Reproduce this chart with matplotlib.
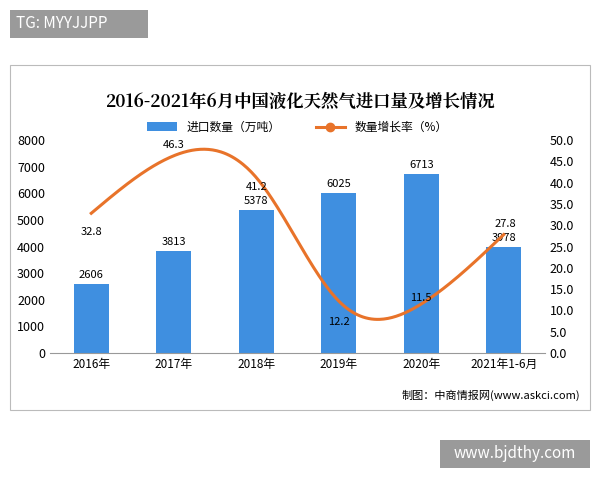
import matplotlib
matplotlib.use("Agg")
import matplotlib.pyplot as plt
import numpy as np
from matplotlib.patches import Rectangle

plt.rcParams['font.family'] = ['Noto Sans CJK SC', 'DejaVu Sans']

categories = ["2016年", "2017年", "2018年", "2019年", "2020年", "2021年1-6月"]
imports = [2606, 3813, 5378, 6025, 6713, 3978]
growth = [32.8, 46.3, 41.2, 12.2, 11.5, 27.8]

def natural_spline(x, y, n=300):
    x = np.asarray(x, float); y = np.asarray(y, float)
    k = len(x); h = np.diff(x)
    A = np.zeros((k, k)); b = np.zeros(k)
    A[0, 0] = A[-1, -1] = 1
    for i in range(1, k - 1):
        A[i, i-1] = h[i-1]; A[i, i] = 2*(h[i-1]+h[i]); A[i, i+1] = h[i]
        b[i] = 3*((y[i+1]-y[i])/h[i] - (y[i]-y[i-1])/h[i-1])
    c = np.linalg.solve(A, b)
    xs = np.linspace(x[0], x[-1], n); ys = np.empty_like(xs)
    for j, xv in enumerate(xs):
        i = min(np.searchsorted(x, xv) - 1, k - 2); i = max(i, 0)
        bb = (y[i+1]-y[i])/h[i] - h[i]*(2*c[i]+c[i+1])/3
        d = (c[i+1]-c[i])/(3*h[i]); t = xv - x[i]
        ys[j] = y[i] + bb*t + c[i]*t**2 + d*t**3
    return xs, ys

fig = plt.figure(figsize=(6, 4.8), dpi=100)
fig.patches.append(Rectangle((10/600, 1-410/480), 580/600, 345/480, transform=fig.transFigure,
                             fill=False, edgecolor='#bbbbbb', lw=0.8))
fig.patches.append(Rectangle((10/600, 1-38/480), 138/600, 28/480, transform=fig.transFigure,
                             facecolor='#9a9a9a', edgecolor='none'))
fig.text(16/600, 1-24/480, "TG: MYYJJPP", color='white', fontsize=11, va='center')
fig.patches.append(Rectangle((440/600, 1-468/480), 150/600, 28/480, transform=fig.transFigure,
                             facecolor='#9a9a9a', edgecolor='none'))
fig.text(515/600, 1-454/480, "www.bjdthy.com", color='white', fontsize=11, va='center', ha='center')

ax = fig.add_axes([50/600, 1-353/480, 495/600, 213/480])
x = np.arange(len(categories))
ax.bar(x, imports, width=0.42, color='#3f8fe0', label='进口数量（万吨）', zorder=2)
for xi, v in zip(x, imports):
    ax.text(xi, v + 150, str(v), ha='center', va='bottom', fontsize=8)
ax.set_xlim(-0.5, 5.5); ax.set_ylim(0, 8000)
ax.set_yticks(range(0, 8001, 1000))
ax.set_xticks(x); ax.set_xticklabels(categories, fontsize=8.5)
ax.tick_params(axis='y', labelsize=9, length=0)
ax.tick_params(axis='x', length=0)
for s in ['top', 'right', 'left']:
    ax.spines[s].set_visible(False)
ax.spines['bottom'].set_color('#999999')

ax2 = ax.twinx()
xs, ys = natural_spline(x, growth)
ax2.plot(xs, ys, color='#e8732a', lw=2.2, zorder=3)
ax2.plot([], [], color='#e8732a', lw=2.2, marker='o', label='数量增长率（%）')
ax2.set_ylim(0, 50); ax2.set_yticks(np.arange(0, 50.1, 5))
ax2.set_yticklabels([f"{v:.1f}" for v in np.arange(0, 50.1, 5)], fontsize=9)
ax2.tick_params(axis='y', length=0)
for s in ['top', 'right', 'left', 'bottom']:
    ax2.spines[s].set_visible(False)
offs = [(0, -4.5), (0, 2.5), (0, -2.2), (0, -5.0), (0, 1.5), (0.02, 2.5)]
for xi, v, (dx, dy) in zip(x, growth, offs):
    ax2.text(xi + dx, v + dy, f"{v}", ha='center', va='center', fontsize=8)

h1, l1 = ax.get_legend_handles_labels(); h2, l2 = ax2.get_legend_handles_labels()
ax.legend(h1 + h2, l1 + l2, loc='lower center', bbox_to_anchor=(0.5, 0.98), ncol=2,
          frameon=False, fontsize=8.5, handlelength=2.5, columnspacing=3)

fig.text(0.5, 1-102/480, "2016-2021年6月中国液化天然气进口量及增长情况", ha='center', va='center',
         fontsize=12.5, fontweight='bold', family=['Noto Serif CJK SC', 'Noto Sans CJK SC', 'DejaVu Sans'])
fig.text(580/600, 1-395/480, "制图：中商情报网(www.askci.com)", ha='right', va='center', fontsize=8)

fig.savefig("out.png", dpi=100)
